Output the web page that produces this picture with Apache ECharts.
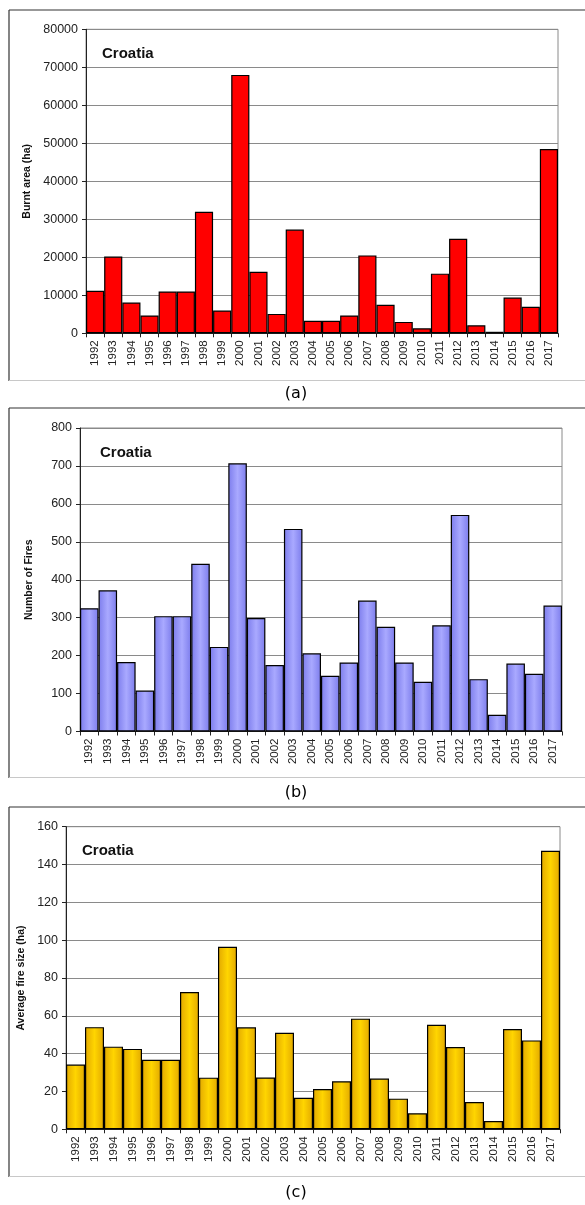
<!DOCTYPE html>
<html>
<head>
<meta charset="utf-8">
<script src="https://cdn.jsdelivr.net/npm/echarts@6/dist/echarts.min.js"></script>
<style>
html,body{margin:0;padding:0;background:#fff;}
#chart{width:585px;height:1205px;}
</style>
</head>
<body>
<div id="chart"></div>
<script>
const years = ['1992','1993','1994','1995','1996','1997','1998','1999','2000','2001','2002','2003','2004','2005','2006','2007','2008','2009','2010','2011','2012','2013','2014','2015','2016','2017'];
const burntArea = [11200,20200,8100,4700,11000,11000,32000,6000,68000,16200,5100,27300,3300,3300,4700,20500,7500,3000,1300,15700,24900,2100,400,9400,7000,48500];
const numberOfFires = [325,372,183,108,304,304,442,223,707,299,175,534,206,147,182,345,276,182,131,280,571,138,44,179,152,332];
const avgFireSize = [34.2,54,43.7,42.5,36.8,36.8,72.6,27.3,96.5,53.9,27.4,51,16.7,21.3,25.4,58.5,26.8,16.2,8.5,55.3,43.5,14.4,4.4,53,47,147.3];
const panelTitle = 'Croatia';
const yNames = ['Burnt area (ha)','Number of Fires','Average fire size (ha)'];
const panelLabels = ['(a)','(b)','(c)'];

const chart = echarts.init(document.getElementById('chart'), null, {renderer:'canvas'});
const FONT = '"Liberation Sans", Arial, sans-serif';

const grids = [
  {left:86, right:27, top:29.3, height:304},
  {left:80, right:23, top:428, height:303.5},
  {left:66, right:25, top:826.7, height:302.6}
];
const yCfg = [
  {max:80000, interval:10000, nameGap:52},
  {max:800, interval:100, nameGap:45},
  {max:160, interval:20, nameGap:38}
];
function grad(edge, mid){
  return new echarts.graphic.LinearGradient(0,0,1,0,[
    {offset:0,color:edge},{offset:0.5,color:mid},{offset:1,color:edge}]);
}
const colors = [
  '#FF0000',
  grad('#7C7CEC','#A9A9FF'),
  grad('#E2A800','#FFD500')
];
const datas = [burntArea, numberOfFires, avgFireSize];

const option = {
  animation:false,
  backgroundColor:'#fff',
  grid: grids.map(g => Object.assign({show:true, borderColor:'#8a8a8a', borderWidth:1, backgroundColor:'transparent'}, g)),
  title: [
    {text:panelTitle, left:97, top:41},
    {text:panelTitle, left:95, top:440},
    {text:panelTitle, left:77, top:838}
  ].map(t => Object.assign(t, {textStyle:{fontFamily:FONT, fontSize:15, fontWeight:'bold', color:'#111'}})),
  xAxis: [0,1,2].map(i => ({
    type:'category', gridIndex:i, data:years,
    axisLine:{show:true, lineStyle:{color:'#222', width:1}},
    axisTick:{show:true, length:4, lineStyle:{color:'#222'}},
    axisLabel:{rotate:90, margin:7, fontFamily:FONT, fontSize:11.5, color:'#222', interval:0}
  })),
  yAxis: [0,1,2].map(i => ({
    type:'value', gridIndex:i, min:0, max:yCfg[i].max, interval:yCfg[i].interval,
    name:yNames[i], nameLocation:'middle', nameGap:yCfg[i].nameGap,
    nameTextStyle:{fontFamily:FONT, fontSize:10.5, fontWeight:'bold', color:'#111'},
    axisLine:{show:true, lineStyle:{color:'#222', width:1}},
    axisTick:{show:true, length:4, lineStyle:{color:'#222'}},
    axisLabel:{margin:8, fontFamily:FONT, fontSize:12.5, color:'#222', formatter: v => String(v)},
    splitLine:{show:true, lineStyle:{color:'#8a8a8a', width:1}}
  })),
  series: [0,1,2].map(i => ({
    type:'bar', xAxisIndex:i, yAxisIndex:i, data:datas[i],
    barCategoryGap:'0%',
    itemStyle:{color:colors[i], borderColor:'#000', borderWidth:1.2}
  })),
  graphic: [
    {type:'line', shape:{x1:9,y1:10,x2:585,y2:10}, style:{stroke:'#333',lineWidth:1.2}},
    {type:'line', shape:{x1:9,y1:10,x2:9,y2:381}, style:{stroke:'#333',lineWidth:1.2}},
    {type:'line', shape:{x1:9,y1:380.5,x2:585,y2:380.5}, style:{stroke:'#c8c8c8',lineWidth:1}},
    {type:'line', shape:{x1:9,y1:408,x2:585,y2:408}, style:{stroke:'#333',lineWidth:1.2}},
    {type:'line', shape:{x1:9,y1:408,x2:9,y2:778}, style:{stroke:'#333',lineWidth:1.2}},
    {type:'line', shape:{x1:9,y1:777.5,x2:585,y2:777.5}, style:{stroke:'#c8c8c8',lineWidth:1}},
    {type:'line', shape:{x1:9,y1:807,x2:585,y2:807}, style:{stroke:'#333',lineWidth:1.2}},
    {type:'line', shape:{x1:9,y1:807,x2:9,y2:1177}, style:{stroke:'#333',lineWidth:1.2}},
    {type:'line', shape:{x1:9,y1:1176.5,x2:585,y2:1176.5}, style:{stroke:'#c8c8c8',lineWidth:1}},
    {type:'text', x:296, y:394, style:{text:panelLabels[0], fontFamily:'"DejaVu Sans", Verdana, sans-serif', fontSize:16, fill:'#000', textAlign:'center', textVerticalAlign:'middle'}},
    {type:'text', x:296, y:793, style:{text:panelLabels[1], fontFamily:'"DejaVu Sans", Verdana, sans-serif', fontSize:16, fill:'#000', textAlign:'center', textVerticalAlign:'middle'}},
    {type:'text', x:296, y:1193, style:{text:panelLabels[2], fontFamily:'"DejaVu Sans", Verdana, sans-serif', fontSize:16, fill:'#000', textAlign:'center', textVerticalAlign:'middle'}}
  ]
};
chart.setOption(option);
</script>
</body>
</html>
